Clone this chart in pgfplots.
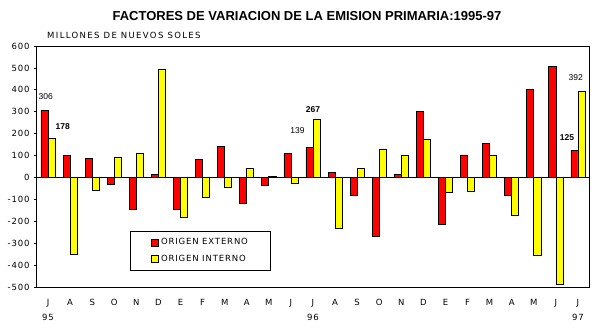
\documentclass[border=0pt]{standalone}
\usepackage{fontspec}
\setmainfont{Liberation Sans}
\newfontfamily\sm[LetterSpace=10]{DejaVu Sans}
\newfontfamily\smw[LetterSpace=16]{DejaVu Sans}
\usepackage{pgfplots}
\pgfplotsset{compat=1.18}
\definecolor{bred}{RGB}{255,0,0}
\definecolor{byel}{RGB}{255,255,0}
\begin{document}
\begin{tikzpicture}
\path[use as bounding box] (-37pt,-46pt) rectangle (578pt,287pt);
\begin{axis}[
  at={(0pt,0pt)}, anchor=south west,
  scale only axis, width=552pt, height=241pt,
  xmin=-0.5, xmax=24.5, ymin=-500, ymax=600,
  axis line style={line width=1pt},
  xtick={0,...,24},
  xticklabels={{J\\[6pt]95},A,S,O,N,D,E,F,M,A,M,J,{J\\[6pt]96},A,S,O,N,D,E,F,M,A,M,J,{J\\[6pt]97}},
  xticklabel style={align=center, yshift=-6pt},
  x tick style={draw=none},
  ytick={-500,-400,-300,-200,-100,0,100,200,300,400,500,600},
  yticklabels={-500,-400,-300,-200,-100,0,100,200,300,400,500,600},
  y tick style={black, line width=0.8pt},
  tick align=outside, major tick length=3pt,
  ytick pos=left,
  yticklabel style={xshift=-1pt},
  tick label style={font=\sm\fontsize{8.5}{9}\selectfont},
  legend style={at={(rel axis cs:0.1685,0.232)}, anchor=north west,
    draw=black, line width=0.8pt, font=\sm\fontsize{8.5}{9}\selectfont,
    inner xsep=21pt, inner ysep=5pt, row sep=5pt, legend cell align=left},
  legend image code/.code={\draw[#1, draw=black, line width=0.6pt] (0pt,-3.5pt) rectangle (7pt,3.5pt);},
  clip=false,
]
\addplot[ybar, bar width=0.32, bar shift=-0.16, fill=bred, draw=black, line width=0.7pt] coordinates {
(0,306)(1,102)(2,87)(3,-32)(4,-146)(5,15)(6,-146)(7,84)(8,143)(9,-119)(10,-37)(11,111)
(12,139)(13,22)(14,-82)(15,-269)(16,12)(17,303)(18,-215)(19,103)(20,157)(21,-82)(22,403)(23,508)(24,125)};
\addlegendentry{ORIGEN EXTERNO}
\addplot[ybar, bar width=0.32, bar shift=0.16, fill=byel, draw=black, line width=0.7pt] coordinates {
(0,178)(1,-350)(2,-61)(3,93)(4,111)(5,495)(6,-183)(7,-91)(8,-46)(9,43)(10,6)(11,-27)
(12,267)(13,-233)(14,43)(15,129)(16,103)(17,175)(18,-68)(19,-64)(20,99)(21,-174)(22,-356)(23,-489)(24,392)};
\addlegendentry{ORIGEN INTERNO}
\addplot[black, line width=0.8pt, forget plot] coordinates {(-0.5,0)(24.5,0)};
\node[font=\fontsize{8.5}{9}\selectfont] at (axis cs:-0.1,370) {306};
\node[font=\fontsize{8.5}{9}\selectfont\bfseries] at (axis cs:0.67,230) {178};
\node[font=\fontsize{8.5}{9}\selectfont] at (axis cs:11.3,212) {139};
\node[font=\fontsize{8.5}{9}\selectfont\bfseries] at (axis cs:12.0,312) {267};
\node[font=\fontsize{8.5}{9}\selectfont] at (axis cs:23.9,458) {392};
\node[font=\fontsize{8.5}{9}\selectfont\bfseries] at (axis cs:23.5,184) {125};
\end{axis}
\node[font=\fontsize{13}{15}\selectfont\bfseries] at (270pt,271pt) {FACTORES DE VARIACION DE LA EMISION PRIMARIA:1995-97};
\node[font=\smw\fontsize{8.5}{9}\selectfont, anchor=west, inner sep=0pt] at (10pt,252pt) {MILLONES DE NUEVOS SOLES};
\end{tikzpicture}
\end{document}
